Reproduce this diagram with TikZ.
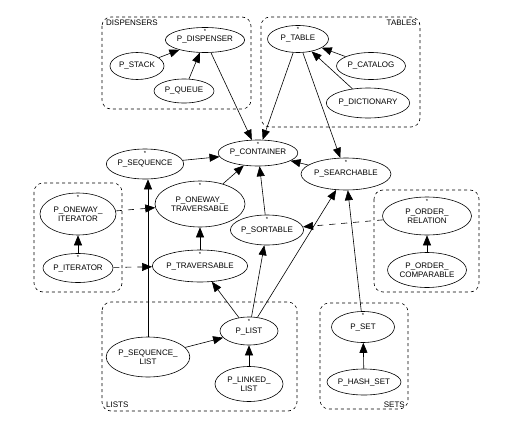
\documentclass[tikz,border=0pt]{standalone}
\usepackage{fontspec}
\setmainfont{Liberation Sans}
\usetikzlibrary{shapes.geometric,arrows.meta}
\newcommand{\lblfont}{\fontsize{8}{9}\selectfont}
\tikzset{
  cls/.style={ellipse, draw, line width=0.6pt, inner sep=0pt, font=\lblfont, align=center},
  defer/.style={cls, label={[anchor=north, inner sep=0pt, yshift=-2pt, font=\fontsize{6}{6}\selectfont]north:*}},
  inh/.style={-{Triangle[length=10pt,width=8pt]}, line width=0.6pt},
  dsh/.style={inh, dash pattern=on 6pt off 6pt},
  clu/.style={draw, line width=0.6pt, rounded corners=9pt, dash pattern=on 3pt off 3pt},
  clab/.style={font=\lblfont, inner sep=0pt},
}
\begin{document}
\begin{tikzpicture}[x=1pt,y=-1pt]
\useasboundingbox (0,0) rectangle (519,428);
% clusters
\draw[clu] (102,17) rectangle (251,109);
\node[clab, anchor=north west] (cdisp) at (106,20) {DISPENSERS};
\draw[clu] (261,17) rectangle (420,127);
\node[clab, anchor=north east] (ctab) at (417,20) {TABLES};
\draw[clu] (34,183) rectangle (122,292);
\draw[clu] (374,190) rectangle (479,292);
\draw[clu] (102,302) rectangle (297,411);
\node[clab, anchor=south west] (clist) at (106,408) {LISTS};
\draw[clu] (320,303) rectangle (408,409);
\node[clab, anchor=south east] (cset) at (405,408) {SETS};
% nodes
\node[defer, minimum width=75pt, minimum height=25pt] (disp) at (205,40) {P\_DISPENSER};
\node[cls, minimum width=54pt, minimum height=27pt] (stack) at (137,66) {P\_STACK};
\node[cls, minimum width=60pt, minimum height=24pt] (queue) at (184,91) {P\_QUEUE};
\node[defer, minimum width=61pt, minimum height=27pt] (table) at (298,39) {P\_TABLE};
\node[cls, minimum width=69pt, minimum height=27pt] (catalog) at (371,66) {P\_CATALOG};
\node[cls, minimum width=78pt, minimum height=30pt] (dict) at (368,103) {P\_DICTIONARY};
\node[defer, minimum width=74pt, minimum height=26pt] (cont) at (258,153) {P\_CONTAINER};
\node[defer, minimum width=79pt, minimum height=32pt] (search) at (346,174) {P\_SEARCHABLE};
\node[defer, minimum width=70pt, minimum height=30pt] (sort) at (267,230) {P\_SORTABLE};
\node[defer, minimum width=89pt, minimum height=38pt] (ordrel) at (427,216) {P\_ORDER\_\\RELATION};
\node[cls, minimum width=79pt, minimum height=35pt] (ordcmp) at (427,270) {P\_ORDER\_\\COMPARABLE};
\node[defer, minimum width=74pt, minimum height=30pt] (seq) at (145,164) {P\_SEQUENCE};
\node[defer, minimum width=90pt, minimum height=46pt] (owtrav) at (200,204) {P\_ONEWAY\_\\TRAVERSABLE};
\node[defer, minimum width=76pt, minimum height=42pt] (owiter) at (78,214) {P\_ONEWAY\_\\ITERATOR};
\node[defer, minimum width=68pt, minimum height=29pt] (iter) at (78,268) {P\_ITERATOR};
\node[defer, minimum width=88pt, minimum height=32pt] (trav) at (200,266) {P\_TRAVERSABLE};
\node[defer, minimum width=58pt, minimum height=28pt] (list) at (249,331) {P\_LIST};
\node[cls, minimum width=77pt, minimum height=40pt] (seqlist) at (148,357) {P\_SEQUENCE\_\\LIST};
\node[cls, minimum width=68pt, minimum height=35pt] (linked) at (249,384) {P\_LINKED\_\\LIST};
\node[defer, minimum width=63pt, minimum height=31pt] (set) at (363,327) {P\_SET};
\node[cls, minimum width=74pt, minimum height=26pt] (hash) at (364,382) {P\_HASH\_SET};
% edges
\draw[inh] (stack) -- (disp);
\draw[inh] (queue) -- (disp);
\draw[inh] (disp) -- (cont);
\draw[inh] (table) -- (cont);
\draw[inh] (table) -- (search);
\draw[inh] (catalog) -- (table);
\draw[inh] (dict) -- (table);
\draw[inh] (seq) -- (cont);
\draw[inh] (owtrav) -- (cont);
\draw[inh] (search) -- (cont);
\draw[inh] (sort) -- (cont);
\draw[dsh] (ordrel) -- (sort);
\draw[dsh] (owiter) -- (owtrav);
\draw[dsh] (iter) -- (trav);
\draw[inh] (iter) -- (owiter);
\draw[inh] (trav) -- (owtrav);
\draw[inh] (ordcmp) -- (ordrel);
\draw[inh] (list) -- (trav);
\draw[inh] (list) -- (sort);
\draw[inh] (list) -- (search);
\draw[inh] (seqlist.north) -- (seqlist.north |- seq.south);
\draw[inh] (seqlist) -- (list);
\draw[inh] (linked) -- (list);
\draw[inh] (set) -- (search);
\draw[inh] (hash) -- (set);
\end{tikzpicture}
\end{document}
